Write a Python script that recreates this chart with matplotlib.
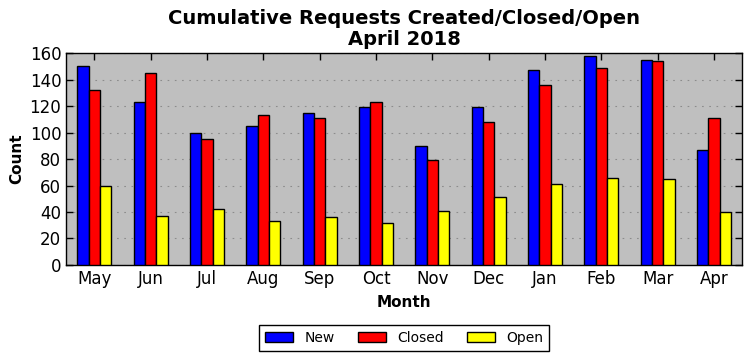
import matplotlib
matplotlib.use("Agg")
import matplotlib.pyplot as plt
import numpy as np

months = ["May", "Jun", "Jul", "Aug", "Sep", "Oct", "Nov", "Dec", "Jan", "Feb", "Mar", "Apr"]
new = [150, 123, 100, 105, 115, 119, 90, 119, 147, 158, 155, 87]
closed = [132, 145, 95, 113, 111, 123, 79, 108, 136, 149, 154, 111]
open_ = [60, 37, 42, 33, 36, 32, 41, 51, 61, 66, 65, 40]
yticks = [0, 20, 40, 60, 80, 100, 120, 140, 160]

fig = plt.figure(figsize=(7.52, 3.61), dpi=100)
ax = fig.add_axes([0.088, 0.266, 0.899, 0.587])
ax.set_facecolor("#bfbfbf")

x = np.arange(len(months))
w = 0.2
ax.bar(x - w, new, w, color="#0000ff", edgecolor="black", linewidth=1, label="New", zorder=3)
ax.bar(x, closed, w, color="#ff0000", edgecolor="black", linewidth=1, label="Closed", zorder=3)
ax.bar(x + w, open_, w, color="#ffff00", edgecolor="black", linewidth=1, label="Open", zorder=3)

ax.set_xlim(-0.5, 11.5)
ax.set_ylim(0, 160)
ax.set_yticks(yticks)
ax.set_xticks(x)
ax.set_xticklabels(months, fontsize=12)
ax.tick_params(axis="y", labelsize=12)
ax.tick_params(direction="in", top=True, right=True, length=5, width=1)
ax.yaxis.grid(True, linestyle=(0, (1.5, 5)), color="#8c8c8c", linewidth=0.8, zorder=0)
ax.set_axisbelow(True)
for s in ax.spines.values():
    s.set_linewidth(1)
    s.set_color("black")

ax.set_xlabel("Month", fontsize=11, fontweight="bold", labelpad=5.5)
ax.set_ylabel("Count", fontsize=11, fontweight="bold")
ax.set_title("Cumulative Requests Created/Closed/Open\nApril 2018", fontsize=14, fontweight="bold", linespacing=1.1)

leg = ax.legend(loc="center", bbox_to_anchor=(0.5, -0.344), ncol=3, fancybox=False,
                edgecolor="black", framealpha=1, fontsize=10, handlelength=2.0,
                columnspacing=1.7, borderpad=0.45)
leg.get_frame().set_linewidth(1)

fig.savefig("out.png", dpi=100)
